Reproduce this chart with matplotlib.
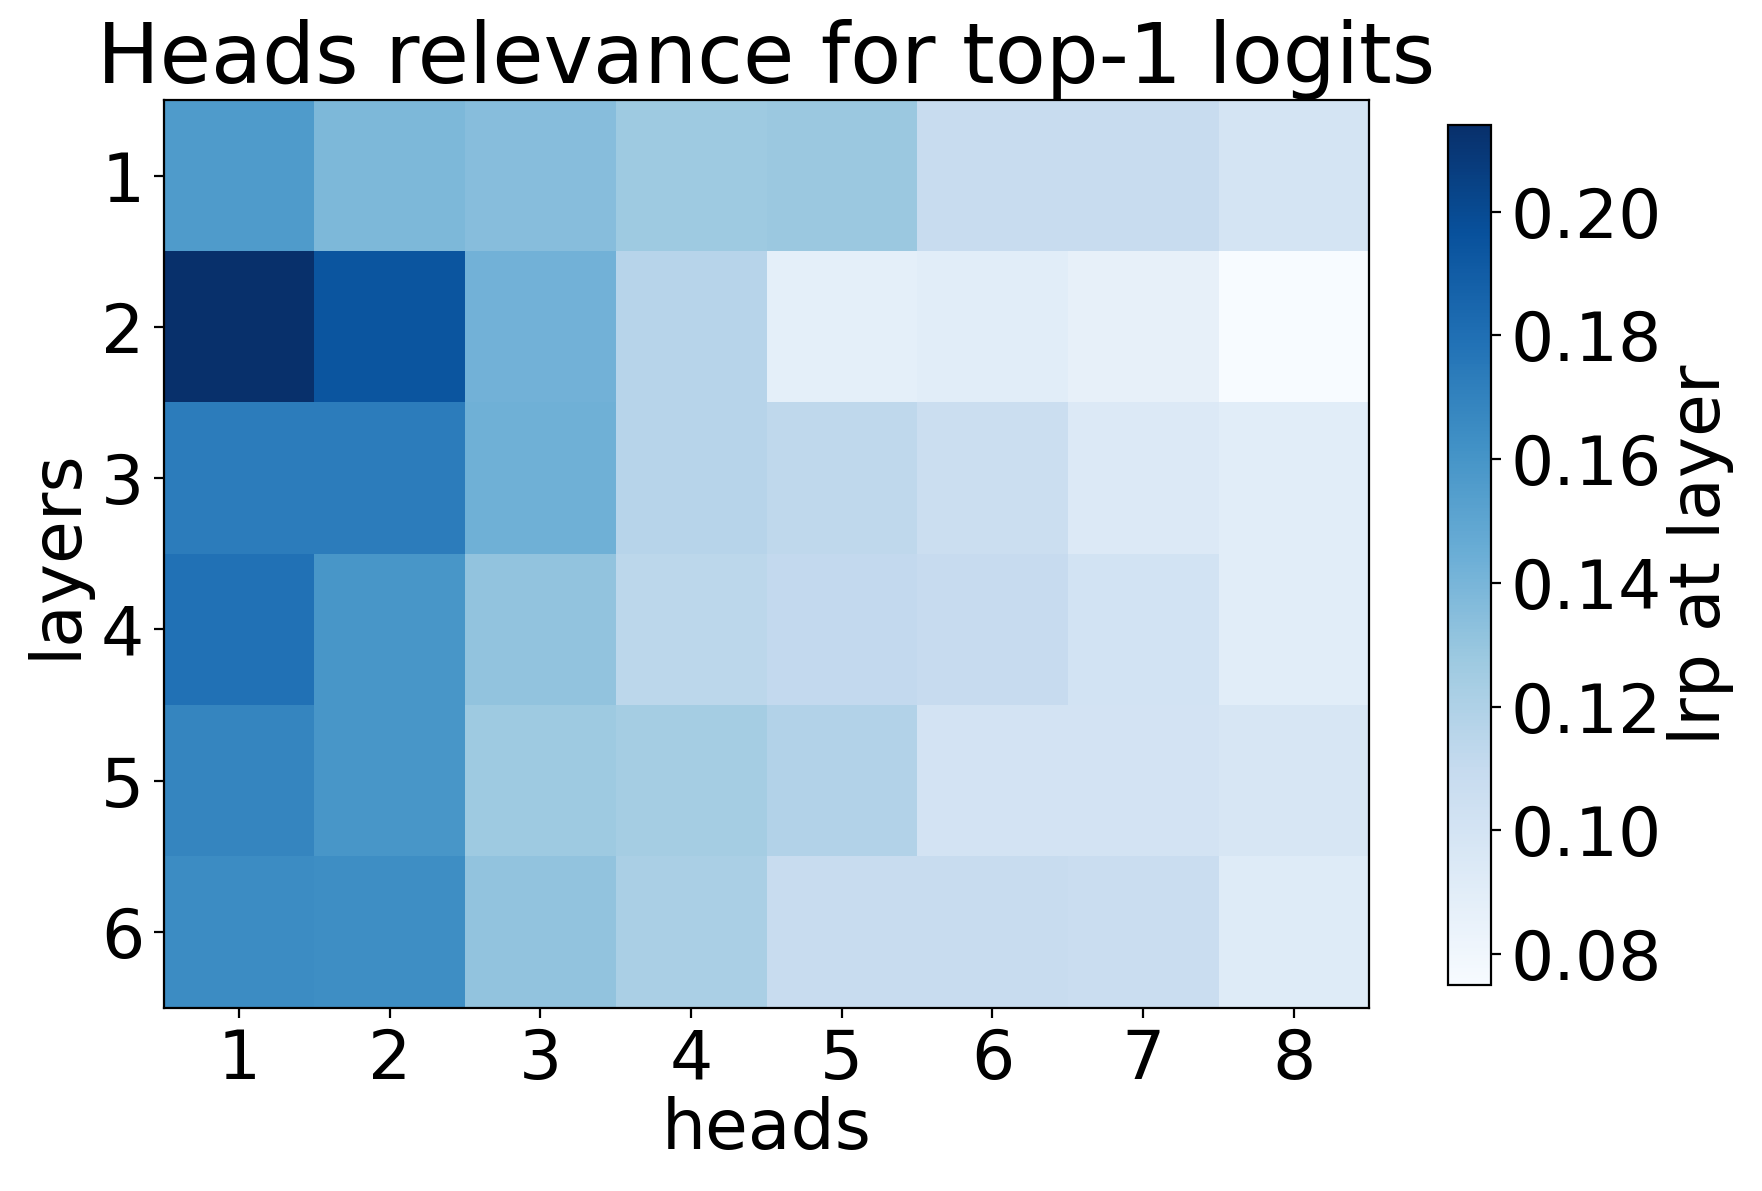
import numpy as np
import matplotlib.pyplot as plt

heads = [1, 2, 3, 4, 5, 6, 7, 8]
layers = [1, 2, 3, 4, 5, 6]

# relevance per layer (rows) and head (columns)
row1 = [0.156, 0.138, 0.135, 0.127, 0.128, 0.108, 0.108, 0.099]
row2 = [0.214, 0.194, 0.142, 0.116, 0.088, 0.090, 0.086, 0.075]
row3 = [0.173, 0.173, 0.143, 0.116, 0.113, 0.106, 0.094, 0.090]
row4 = [0.179, 0.159, 0.131, 0.114, 0.111, 0.109, 0.101, 0.090]
row5 = [0.168, 0.159, 0.127, 0.124, 0.118, 0.100, 0.100, 0.097]
row6 = [0.165, 0.164, 0.131, 0.122, 0.108, 0.108, 0.107, 0.092]

vals = np.array([row1, row2, row3, row4, row5, row6])

fig = plt.figure(figsize=(8.81, 5.955), dpi=200)
ax = fig.add_axes([0.093, 0.154, 0.684, 0.762])
im = ax.imshow(vals, cmap="Blues", aspect="auto")
ax.set_xticks(range(len(heads)))
ax.set_xticklabels(heads, fontsize=24.5)
ax.set_yticks(range(len(layers)))
ax.set_yticklabels(layers, fontsize=24.5)
ax.set_xlabel("heads", fontsize=25, labelpad=1)
ax.set_ylabel("layers", fontsize=25, labelpad=4)
ax.set_title("Heads relevance for top-1 logits", fontsize=30, pad=3)

cax = fig.add_axes([0.822, 0.173, 0.024, 0.722])
cb = fig.colorbar(im, cax=cax)
cb.set_ticks([0.08, 0.10, 0.12, 0.14, 0.16, 0.18, 0.20])
cb.ax.tick_params(labelsize=24.5)
cb.set_label("lrp at layer", fontsize=25, labelpad=2)

fig.savefig("out.png", dpi=200)
